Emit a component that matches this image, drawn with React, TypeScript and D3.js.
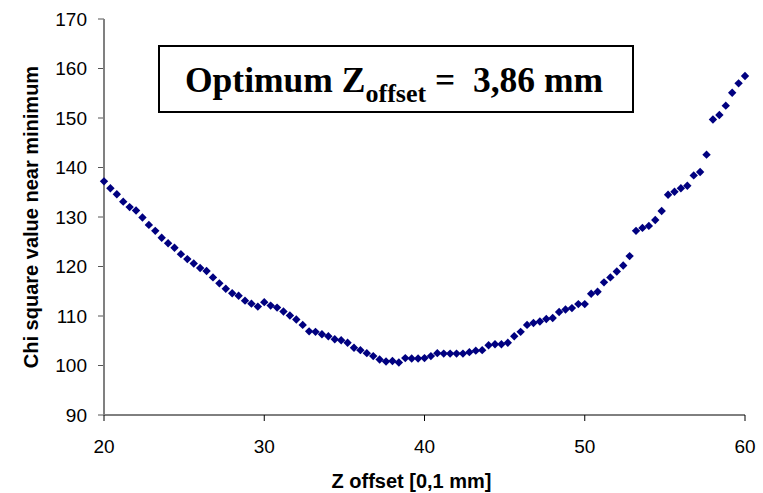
import React from "react";
import * as d3 from "d3";

const zOffsets = [
  20.0, 20.4, 20.8, 21.2, 21.6, 22.0, 22.4, 22.8, 23.2, 23.6,
  24.0, 24.4, 24.8, 25.2, 25.6, 26.0, 26.4, 26.8, 27.2, 27.6,
  28.0, 28.4, 28.8, 29.2, 29.6, 30.0, 30.4, 30.8, 31.2, 31.6,
  32.0, 32.4, 32.8, 33.2, 33.6, 34.0, 34.4, 34.8, 35.2, 35.6,
  36.0, 36.4, 36.8, 37.2, 37.6, 38.0, 38.4, 38.8, 39.2, 39.6,
  40.0, 40.4, 40.8, 41.2, 41.6, 42.0, 42.4, 42.8, 43.2, 43.6,
  44.0, 44.4, 44.8, 45.2, 45.6, 46.0, 46.4, 46.8, 47.2, 47.6,
  48.0, 48.4, 48.8, 49.2, 49.6, 50.0, 50.4, 50.8, 51.2, 51.6,
  52.0, 52.4, 52.8, 53.2, 53.6, 54.0, 54.4, 54.8, 55.2, 55.6,
  56.0, 56.4, 56.8, 57.2, 57.6, 58.0, 58.4, 58.8, 59.2, 59.6,
  60.0,
];

const chiSquare = [
  137.2, 135.8, 134.6, 133.1, 132.0, 131.3, 129.9, 128.4, 127.2, 125.8,
  124.7, 123.8, 122.5, 121.5, 120.6, 119.7, 119.1, 117.8, 116.6, 115.5,
  114.6, 114.1, 113.1, 112.5, 111.9, 112.8, 112.1, 111.7, 110.9, 110.1,
  109.3, 108.2, 106.9, 106.8, 106.3, 105.9, 105.3, 105.1, 104.6, 103.6,
  103.1, 102.5, 101.9, 101.2, 100.8, 100.9, 100.6, 101.5, 101.4, 101.4,
  101.5, 101.9, 102.5, 102.4, 102.4, 102.4, 102.4, 102.7, 103.0, 103.1,
  104.1, 104.3, 104.3, 104.6, 105.9, 106.8, 108.2, 108.6, 108.9, 109.4,
  109.6, 110.8, 111.3, 111.6, 112.4, 112.4, 114.5, 114.9, 116.8, 117.8,
  119.0, 120.2, 122.1, 127.2, 127.8, 128.2, 129.4, 131.2, 134.5, 135.1,
  135.8, 136.3, 138.4, 139.1, 142.6, 149.7, 150.6, 152.5, 155.1, 157.0,
  158.5,
];

const xTicks = [20, 30, 40, 50, 60];
const yTicks = [90, 100, 110, 120, 130, 140, 150, 160, 170];

const xTitle = "Z offset [0,1 mm]";
const yTitle = "Chi square value near minimum";
const noteMain = "Optimum Z";
const noteSub = "offset";
const noteTail = " =  3,86 mm";

export default function App() {
  const W = 763;
  const H = 493;
  const left = 104;
  const right = 745;
  const top = 19;
  const bottom = 415;

  const x = d3.scaleLinear().domain([20, 60]).range([left, right]);
  const y = d3.scaleLinear().domain([90, 170]).range([bottom, top]);

  const s = 4.2;
  const diamond = `M0,${-s}L${s},0L0,${s}L${-s},0Z`;

  const sans = "Arial, 'Liberation Sans', sans-serif";
  const serif = "'Times New Roman', 'Liberation Serif', serif";

  return (
    <svg
      width={W}
      height={H}
      style={{ position: "absolute", left: 0, top: 0, background: "#fff" }}
    >
      <rect x={0} y={0} width={W} height={H} fill="#fff" />

      {/* y ticks */}
      {yTicks.map((t) => (
        <g key={"y" + t}>
          <line x1={left - 6} x2={left} y1={y(t)} y2={y(t)} stroke="#555" strokeWidth={1} />
          <text
            x={left - 17}
            y={y(t)}
            dy="0.36em"
            textAnchor="end"
            fontFamily={sans}
            fontSize={19}
            fill="#000"
          >
            {t}
          </text>
        </g>
      ))}

      {/* x ticks */}
      {xTicks.map((t) => (
        <g key={"x" + t}>
          <line x1={x(t)} x2={x(t)} y1={bottom} y2={bottom + 6} stroke="#000" strokeWidth={1} />
          <text
            x={x(t)}
            y={453}
            textAnchor="middle"
            fontFamily={sans}
            fontSize={19}
            fill="#000"
          >
            {t}
          </text>
        </g>
      ))}

      {/* axes */}
      <line x1={left} x2={right} y1={bottom} y2={bottom} stroke="#000" strokeWidth={1} />
      <line x1={left} x2={left} y1={top} y2={bottom} stroke="#808080" strokeWidth={2} />

      {/* titles */}
      <text
        x={(left + right) / 2 - 13}
        y={488}
        textAnchor="middle"
        fontFamily={sans}
        fontWeight="bold"
        fontSize={20}
      >
        {xTitle}
      </text>
      <text
        transform={`translate(38,${(top + bottom) / 2}) rotate(-90)`}
        textAnchor="middle"
        fontFamily={sans}
        fontWeight="bold"
        fontSize={20}
      >
        {yTitle}
      </text>

      {/* points */}
      {zOffsets.map((z, i) => (
        <path
          key={"p" + i}
          d={diamond}
          transform={`translate(${x(z)},${y(chiSquare[i])})`}
          fill="#000080"
        />
      ))}

      {/* annotation */}
      <rect x={159} y={46} width={474} height={66} fill="#fff" stroke="#000" strokeWidth={2} />
      <text
        x={185}
        y={92}
        fontFamily={serif}
        fontWeight="bold"
        fontSize={35.5}
        style={{ whiteSpace: "pre" }}
      >
        {noteMain}
        <tspan fontSize={26} dy={10}>
          {noteSub}
        </tspan>
        <tspan dy={-10}>{noteTail}</tspan>
      </text>
    </svg>
  );
}
